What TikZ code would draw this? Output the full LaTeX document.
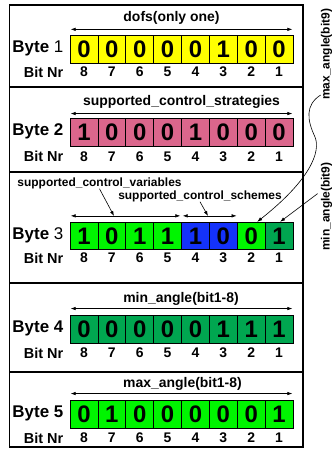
\documentclass[tikz,border=0pt]{standalone}
\usepackage{fontspec}
\setmainfont{Liberation Sans}
\usetikzlibrary{arrows.meta}

\definecolor{byteyellow}{RGB}{255,255,0}
\definecolor{bytepink}{RGB}{219,102,140}
\definecolor{lightgreen}{RGB}{0,245,0}
\definecolor{darkgreen}{RGB}{0,166,80}
\definecolor{schemeblue}{RGB}{20,50,250}

\begin{document}
\begin{tikzpicture}[x=1bp, y=-1bp,
    outline/.style={line width=1.4bp},
    bitcell/.style={draw, line width=0.7bp, minimum width=27.875bp, minimum height=27.6bp,
        inner sep=0pt, font=\bfseries\fontsize{24}{24}\selectfont},
    bitnr/.style={inner sep=0pt, font=\bfseries\fontsize{14}{14}\selectfont},
    bytelabel/.style={anchor=east, inner sep=0pt, font=\bfseries\fontsize{17}{17}\selectfont},
    fieldname/.style={inner sep=0pt, font=\bfseries\fontsize{14}{14}\selectfont},
    subfield/.style={inner sep=0pt, font=\bfseries\fontsize{12}{12}\selectfont},
    sidelabel/.style={rotate=90, anchor=base west, inner sep=0pt, font=\bfseries\fontsize{12}{12}\selectfont},
    fieldspan/.style={{Latex[length=5bp,width=3.5bp]}-{Latex[length=5bp,width=3.5bp]}, line width=0.6bp},
    pointer/.style={-{Latex[length=5bp,width=3.5bp]}, line width=0.6bp}]
    \useasboundingbox (0,0) rectangle (332,449);

    % frame and panel separators
    \draw[outline] (9.5,5) rectangle (303,447);
    \foreach \y in {87,172,283,372}
        \draw[outline] (9.5,\y) -- (303,\y);

    % byte labels
    \node[bytelabel] (byte1) at (63.5,48.5) {Byte {\mdseries 1}};
    \node[bytelabel] (byte2) at (63.5,131) {Byte 2};
    \node[bytelabel] (byte3) at (63.5,235) {Byte {\mdseries 3}};
    \node[bytelabel] (byte4) at (63.5,328) {Byte 4};
    \node[bytelabel] (byte5) at (63.5,413) {Byte 5};
    \foreach \k/\y in {1/72,2/156.7,3/258,4/353,5/438}
        \node[bitnr, anchor=east, font=\bfseries\fontsize{14.5}{14.5}\selectfont] (bitnr\k) at (63.5,\y) {Bit Nr};

    % byte 1
    \foreach \v [count=\i] in {0,0,0,0,0,1,0,0} {
        \pgfmathtruncatemacro{\n}{9-\i}
        \node[bitcell, fill=byteyellow] (b1-\n) at ({70+27.875*(\i-0.5)},49.5) {\v};
        \node[bitnr] at ({70+27.875*(\i-0.5)},72) {\n};
    }
    \draw[fieldspan] ([shift={(1bp,6bp)}]b1-8.north west) -- ([shift={(-1bp,6bp)}]b1-1.north east);
    \node[fieldname] (dofs) at (171.5,18) {dofs(only one)};

    % byte 2
    \foreach \v [count=\i] in {1,0,0,0,1,0,0,0} {
        \pgfmathtruncatemacro{\n}{9-\i}
        \node[bitcell, fill=bytepink] (b2-\n) at ({70+27.875*(\i-0.5)},132.2) {\v};
        \node[bitnr] at ({70+27.875*(\i-0.5)},156.7) {\n};
    }
    \draw[fieldspan] ([shift={(1bp,4.5bp)}]b2-8.north west) -- ([shift={(-1bp,4.5bp)}]b2-1.north east);
    \node[fieldname] (strategies) at (181.5,101.7) {supported\_control\_strategies};

    % byte 3
    \foreach \v/\c [count=\i] in {1/lightgreen,0/lightgreen,1/lightgreen,1/lightgreen,
                                  1/schemeblue,0/schemeblue,0/lightgreen,1/darkgreen} {
        \pgfmathtruncatemacro{\n}{9-\i}
        \node[bitcell, fill=\c] (b3-\n) at ({70+27.875*(\i-0.5)},236) {\v};
        \node[bitnr] at ({70+27.875*(\i-0.5)},258) {\n};
    }
    \draw[fieldspan] ([shift={(1bp,6bp)}]b3-8.north west) -- ([shift={(-1.5bp,6bp)}]b3-5.north east);
    \draw[fieldspan] ([shift={(1.5bp,6bp)}]b3-4.north west) -- ([shift={(-1bp,6bp)}]b3-3.north east);
    \node[subfield] (variables) at (99.5,183) {supported\_control\_variables};
    \node[subfield] (schemes) at (200,196) {supported\_control\_schemes};
    \coordinate (varmark) at (114,216);
    \coordinate (schememark) at (208,216);
    \draw[pointer] (variables.south) -- (varmark);
    \draw[pointer] (schemes.south) -- (schememark);

    % bit 9 of the angles
    \node[sidelabel] (maxlbl) at (329.5,100) {max\_angle(bit9)};
    \node[sidelabel] (minlbl) at (329.5,251) {min\_angle(bit9)};
    \draw[pointer] ([yshift=5bp]maxlbl.north west) .. controls (305,105) and (307,120) .. (315,137)
        .. controls (321,152) and (310,180) .. ([xshift=6bp]b3-2.north);
    \draw[pointer] ([shift={(-3bp,13bp)}]minlbl.north) -- ([xshift=1bp]b3-1.north);

    % byte 4
    \foreach \v [count=\i] in {0,0,0,0,0,1,1,1} {
        \pgfmathtruncatemacro{\n}{9-\i}
        \node[bitcell, fill=darkgreen] (b4-\n) at ({70+27.875*(\i-0.5)},329.2) {\v};
        \node[bitnr] at ({70+27.875*(\i-0.5)},353) {\n};
    }
    \draw[fieldspan] ([shift={(1bp,6.5bp)}]b4-8.north west) -- ([shift={(-1bp,6.5bp)}]b4-1.north east);
    \node[fieldname] (minangle) at (181,299) {min\_angle(bit1-8)};

    % byte 5
    \foreach \v [count=\i] in {0,1,0,0,0,0,0,1} {
        \pgfmathtruncatemacro{\n}{9-\i}
        \node[bitcell, fill=lightgreen] (b5-\n) at ({70+27.875*(\i-0.5)},414.2) {\v};
        \node[bitnr] at ({70+27.875*(\i-0.5)},438) {\n};
    }
    \draw[fieldspan] ([shift={(1bp,6.5bp)}]b5-8.north west) -- ([shift={(-1bp,6.5bp)}]b5-1.north east);
    \node[fieldname] (maxangle) at (182.5,384) {max\_angle(bit1-8)};
\end{tikzpicture}
\end{document}
